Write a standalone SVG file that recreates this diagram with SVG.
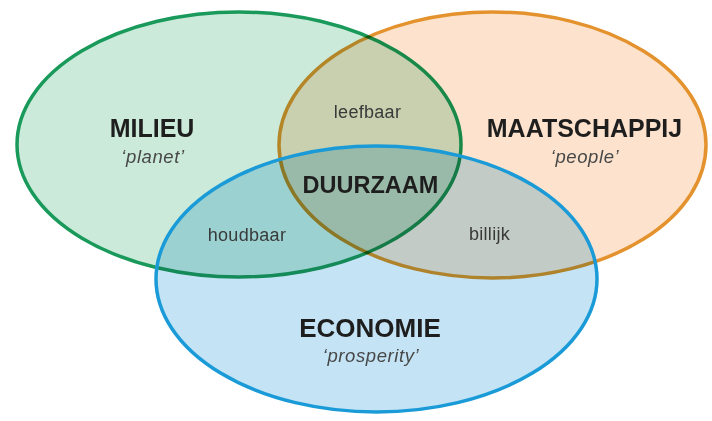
<svg xmlns="http://www.w3.org/2000/svg" width="712" height="421" viewBox="0 0 712 421">
  <style>
    .set { mix-blend-mode: multiply; stroke-width: 3.5; }
    .edge { fill: none; stroke-width: 3.5; }
    .title { font-family: "Liberation Sans", Arial, sans-serif; font-weight: bold; fill: #1e1e1e; text-anchor: middle; }
    .sub { font-family: "Liberation Sans", Arial, sans-serif; font-style: italic; fill: #484848; text-anchor: middle; font-size: 18.5px; letter-spacing: 0.6px; }
    .lab { font-family: "Liberation Sans", Arial, sans-serif; fill: #3a3a3a; text-anchor: middle; font-size: 18px; letter-spacing: 0.3px; }
  </style>
  <rect width="712" height="421" fill="#ffffff"/>
  <g id="shapes">
    <g id="maatschappij-set">
      <ellipse class="set" cx="492.5" cy="145" rx="213.5" ry="133" fill="#fde3cd" stroke="#e4922d"/>
    </g>
    <g id="milieu-set">
      <ellipse class="set" cx="239" cy="144.5" rx="222" ry="132.5" fill="#cbeada" stroke="#199a5b"/>
    </g>
    <g id="economie-set">
      <ellipse class="set" cx="376.5" cy="279" rx="220.5" ry="133" fill="#c4e4f6" stroke="none"/>
      <ellipse class="edge" cx="376.5" cy="279" rx="220.5" ry="133" stroke="#1a9bd7"/>
    </g>
  </g>
  <g id="connectors"/>
  <g id="milieu">
    <text class="title" x="152" y="137" font-size="25">MILIEU</text>
    <text class="sub" x="153" y="163">‘planet’</text>
  </g>
  <g id="maatschappij">
    <text class="title" x="584.5" y="137" font-size="25">MAATSCHAPPIJ</text>
    <text class="sub" x="585" y="163">‘people’</text>
  </g>
  <g id="economie">
    <text class="title" x="370" y="337" font-size="26">ECONOMIE</text>
    <text class="sub" x="371" y="362">‘prosperity’</text>
  </g>
  <g id="duurzaam">
    <text class="title" x="370.5" y="193" font-size="23.5">DUURZAAM</text>
  </g>
  <g id="leefbaar">
    <text class="lab" x="367.5" y="118">leefbaar</text>
  </g>
  <g id="houdbaar">
    <text class="lab" x="247" y="241">houdbaar</text>
  </g>
  <g id="billijk">
    <text class="lab" x="489.5" y="240">billijk</text>
  </g>
</svg>
